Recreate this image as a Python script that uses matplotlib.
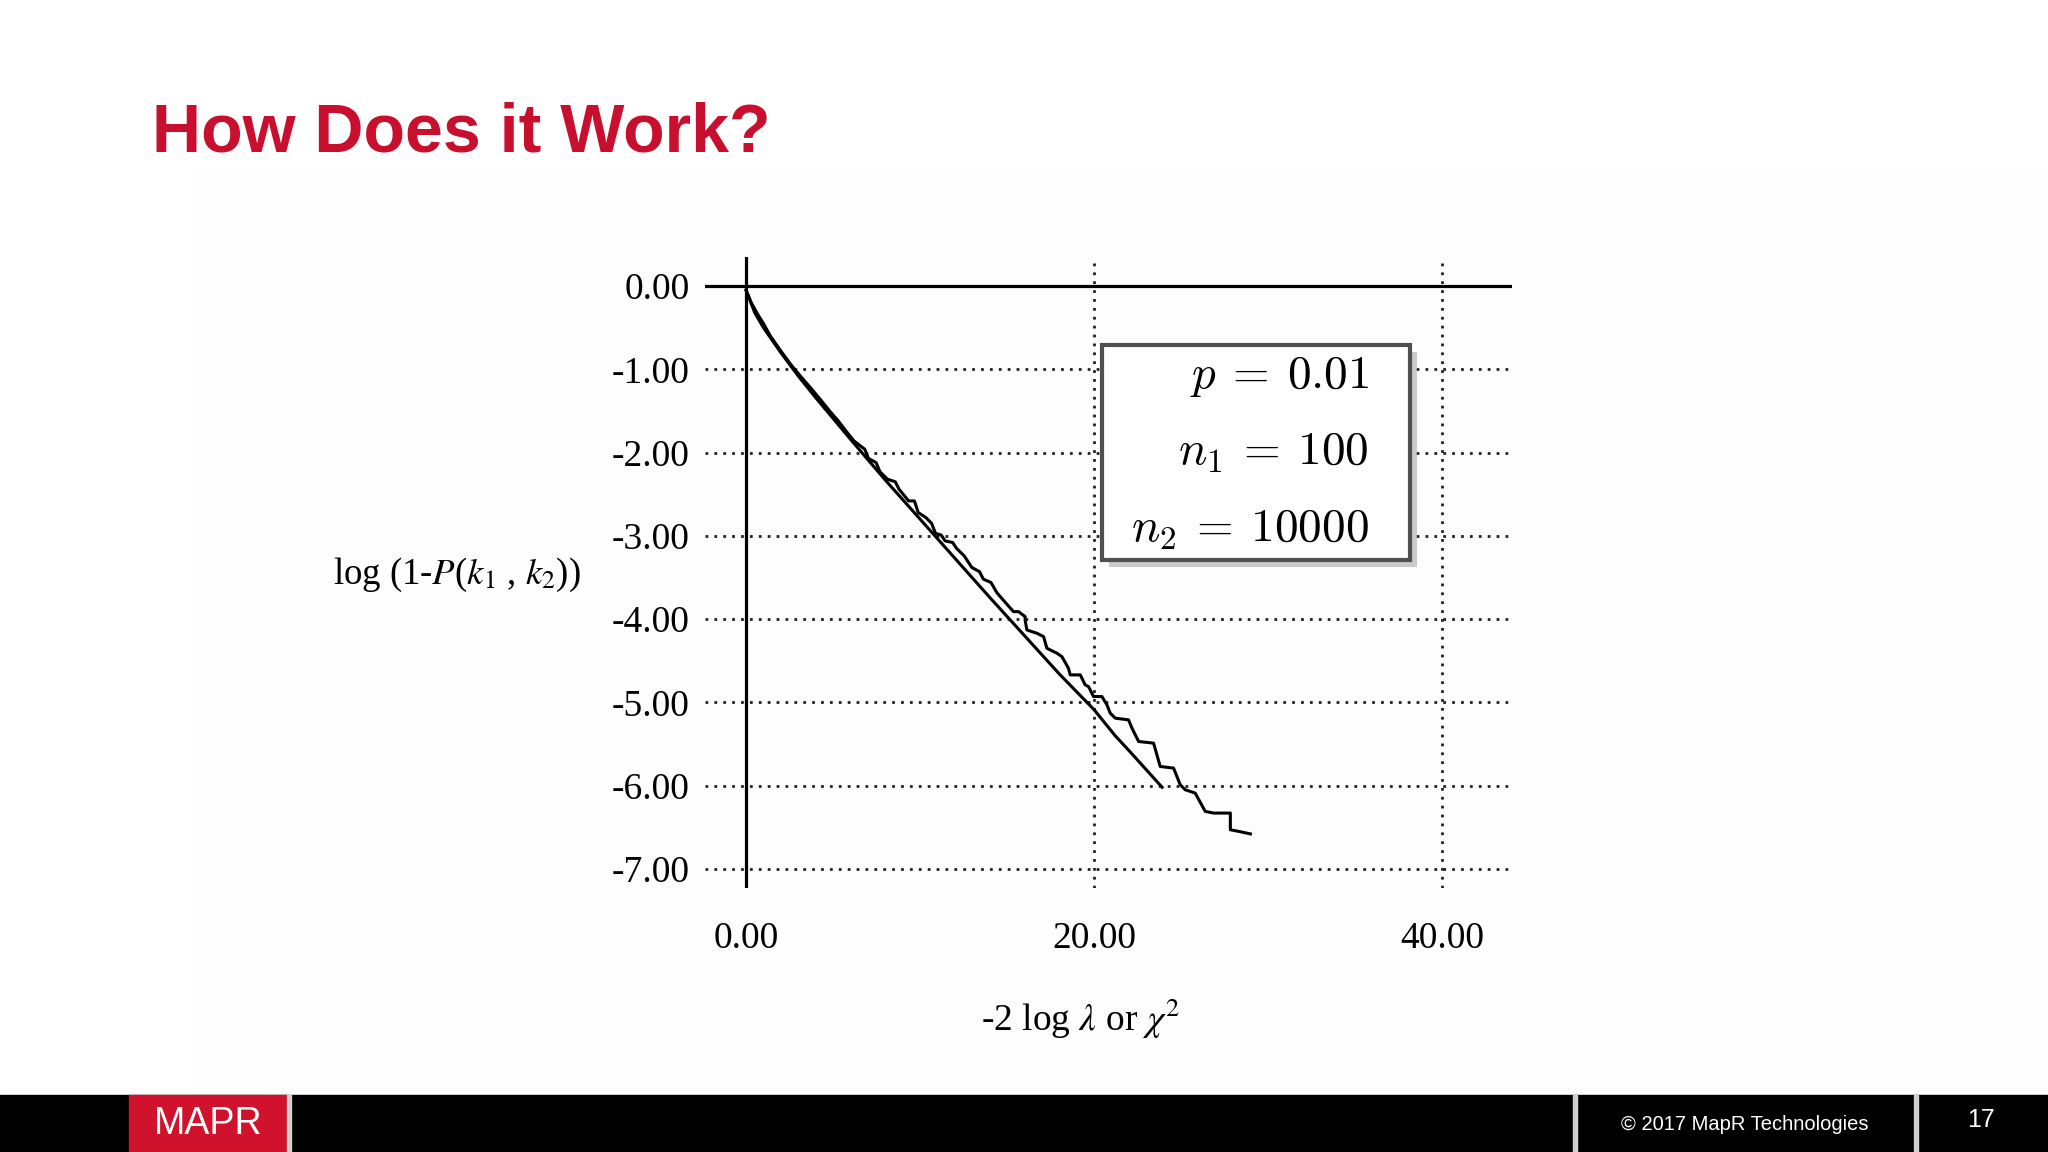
import matplotlib
matplotlib.use('Agg')
import matplotlib.pyplot as plt
from matplotlib.patches import Rectangle

# smooth curve (theory)
smooth_x = [0, 0.5, 1, 2, 3, 4, 6, 8, 10, 12, 14, 16, 18, 20, 21.2, 22, 23.9]
smooth_y = [-0.05, -0.32, -0.50, -0.80, -1.08, -1.34, -1.84, -2.33, -2.80,
            -3.27, -3.74, -4.20, -4.66, -5.09, -5.40, -5.58, -6.02]

step_x = [0, 0.3, 0.7, 1.0, 1.4, 2.0, 2.6, 3.2, 3.7, 4.3, 4.8, 5.3, 5.7, 6.2,
          6.82, 7.03, 7.47, 7.69, 8.13, 8.57, 8.79, 9.34, 9.67, 9.89, 10.33,
          10.66, 10.88, 11.21, 11.43, 11.87, 12.09, 12.53, 12.97, 13.41, 13.63,
          14.07, 14.40, 14.6, 15.36, 15.65, 16.03, 16.03, 16.13, 16.71, 17.09,
          17.28, 17.86, 18.14, 18.52, 18.62, 19.20, 19.48, 19.67, 19.96, 20.44,
          20.73, 20.92, 21.21, 21.97, 22.17, 22.55, 23.41, 23.79, 24.56, 24.94,
          25.23, 25.80, 26.38, 26.86, 27.82, 27.82, 28.30, 28.97]
step_y = [-0.05, -0.20, -0.35, -0.45, -0.60, -0.78, -0.95, -1.10, -1.22, -1.37,
          -1.50, -1.62, -1.73, -1.86, -1.96, -2.07, -2.12, -2.23, -2.32, -2.35,
          -2.44, -2.58, -2.58, -2.72, -2.78, -2.85, -2.97, -2.99, -3.06, -3.08,
          -3.15, -3.24, -3.38, -3.43, -3.52, -3.56, -3.68, -3.73, -3.91, -3.91,
          -3.97, -4.01, -4.13, -4.17, -4.21, -4.35, -4.41, -4.45, -4.59, -4.67,
          -4.67, -4.79, -4.81, -4.93, -4.93, -5.03, -5.13, -5.19, -5.21, -5.31,
          -5.47, -5.49, -5.77, -5.79, -5.99, -6.05, -6.09, -6.31, -6.33, -6.33,
          -6.53, -6.55, -6.58]

y_ticks = [0, -1, -2, -3, -4, -5, -6, -7]
y_ticklabels = ['0.00', '-1.00', '-2.00', '-3.00', '-4.00', '-5.00', '-6.00', '-7.00']
x_ticks = [0, 20, 40]
x_ticklabels = ['0.00', '20.00', '40.00']
box_lines = [r'$p\:=\:0.01$', r'$n_1\:=\:100$', r'$n_2\:=\:10000$']

W, H = 2048, 1152
fig = plt.figure(figsize=(20.48, 11.52), dpi=100)
fig.patch.set_facecolor('white')

def fx(px):
    return px / W

def fy(py):
    return 1 - py / H

# faint background of the pasted image
fig.patches.append(Rectangle((fx(193), fy(1095)), 1 - fx(193), fy(170) - fy(1095),
                             transform=fig.transFigure, color='#fdfdfd', zorder=-10))

ax = fig.add_axes([fx(705), fy(888), (1512 - 705) / W, (888 - 257) / H])
ax.patch.set_alpha(0)
ax.set_xlim(-2.36, 44.0)
ax.set_ylim(-7.23, 0.35)
for s in ax.spines.values():
    s.set_visible(False)

ax.axhline(0, color='black', lw=2.3, zorder=3)
ax.axvline(0, color='black', lw=2.3, zorder=3)
for v in y_ticks[1:]:
    ax.axhline(v, color='#222222', lw=2.0, ls=(0, (1, 2.2)), zorder=1)
for v in x_ticks[1:]:
    ax.axvline(v, color='#222222', lw=2.0, ls=(0, (1, 2.2)), zorder=1)

ax.plot(smooth_x, smooth_y, color='black', lw=2.2, zorder=4)
ax.plot(step_x, step_y, color='black', lw=2.2, zorder=4)

ax.set_yticks(y_ticks)
ax.set_yticklabels(y_ticklabels)
ax.set_xticks(x_ticks)
ax.set_xticklabels(x_ticklabels)
ax.tick_params(length=0, labelsize=27)
ax.tick_params(axis='y', pad=11)
ax.tick_params(axis='x', pad=24)
for lab in ax.get_xticklabels() + ax.get_yticklabels():
    lab.set_fontfamily('Liberation Serif')

fig.text(fx(457), fy(575), r'log (1-$P$($k_1$ , $k_2$))', fontsize=26.5,
         family='Liberation Serif', math_fontfamily='stix',
         ha='center', va='center')
fig.text(fx(1081), fy(1019), r'-2 log $\lambda$ or $\chi^2$', fontsize=27,
         family='Liberation Serif', math_fontfamily='stix',
         ha='center', va='center')

# parameter box with shadow
fig.patches.append(Rectangle((fx(1109), fy(567)), (1410 - 1102) / W, (560 - 345) / H,
                             transform=fig.transFigure, facecolor='#a8a8a8',
                             edgecolor='none', alpha=0.6, zorder=5))
fig.patches.append(Rectangle((fx(1102), fy(560)), (1410 - 1102) / W, (560 - 345) / H,
                             transform=fig.transFigure, facecolor='white',
                             edgecolor='#505050', lw=3, zorder=6))
for txt, base in zip(box_lines, [388, 465, 542]):
    fig.text(fx(1369), fy(base), txt, fontsize=34, math_fontfamily='cm',
             ha='right', va='baseline', zorder=7)

# title
fig.text(fx(152), fy(152), 'How Does it Work?', fontsize=49, fontweight='bold',
         family='Liberation Sans', color='#C8102E', va='baseline')

# footer
fig.patches.append(Rectangle((0, 0), 1, fy(1095), transform=fig.transFigure,
                             color='black', zorder=1))
fig.patches.append(Rectangle((fx(129), 0), (287 - 129) / W, fy(1095),
                             transform=fig.transFigure, color='#D0122C', zorder=2))
for xs in [289, 1575, 1916]:
    fig.patches.append(Rectangle((fx(xs - 2), 0), 4 / W, fy(1095),
                                 transform=fig.transFigure, color='#d0d0d0', zorder=2))
fig.text(fx(208), fy(1124), 'MAPR', fontsize=27, color='white',
         family='Liberation Sans', ha='center', va='center', zorder=3)
fig.text(fx(1745), fy(1124), '\u00a9 2017 MapR Technologies', fontsize=14.5,
         color='white', family='Liberation Sans', ha='center', va='center', zorder=3)
fig.text(fx(1981), fy(1120), '17', fontsize=18, color='white',
         family='Liberation Sans', ha='center', va='center', zorder=3)

fig.savefig('out.png', dpi=100, facecolor='white')
